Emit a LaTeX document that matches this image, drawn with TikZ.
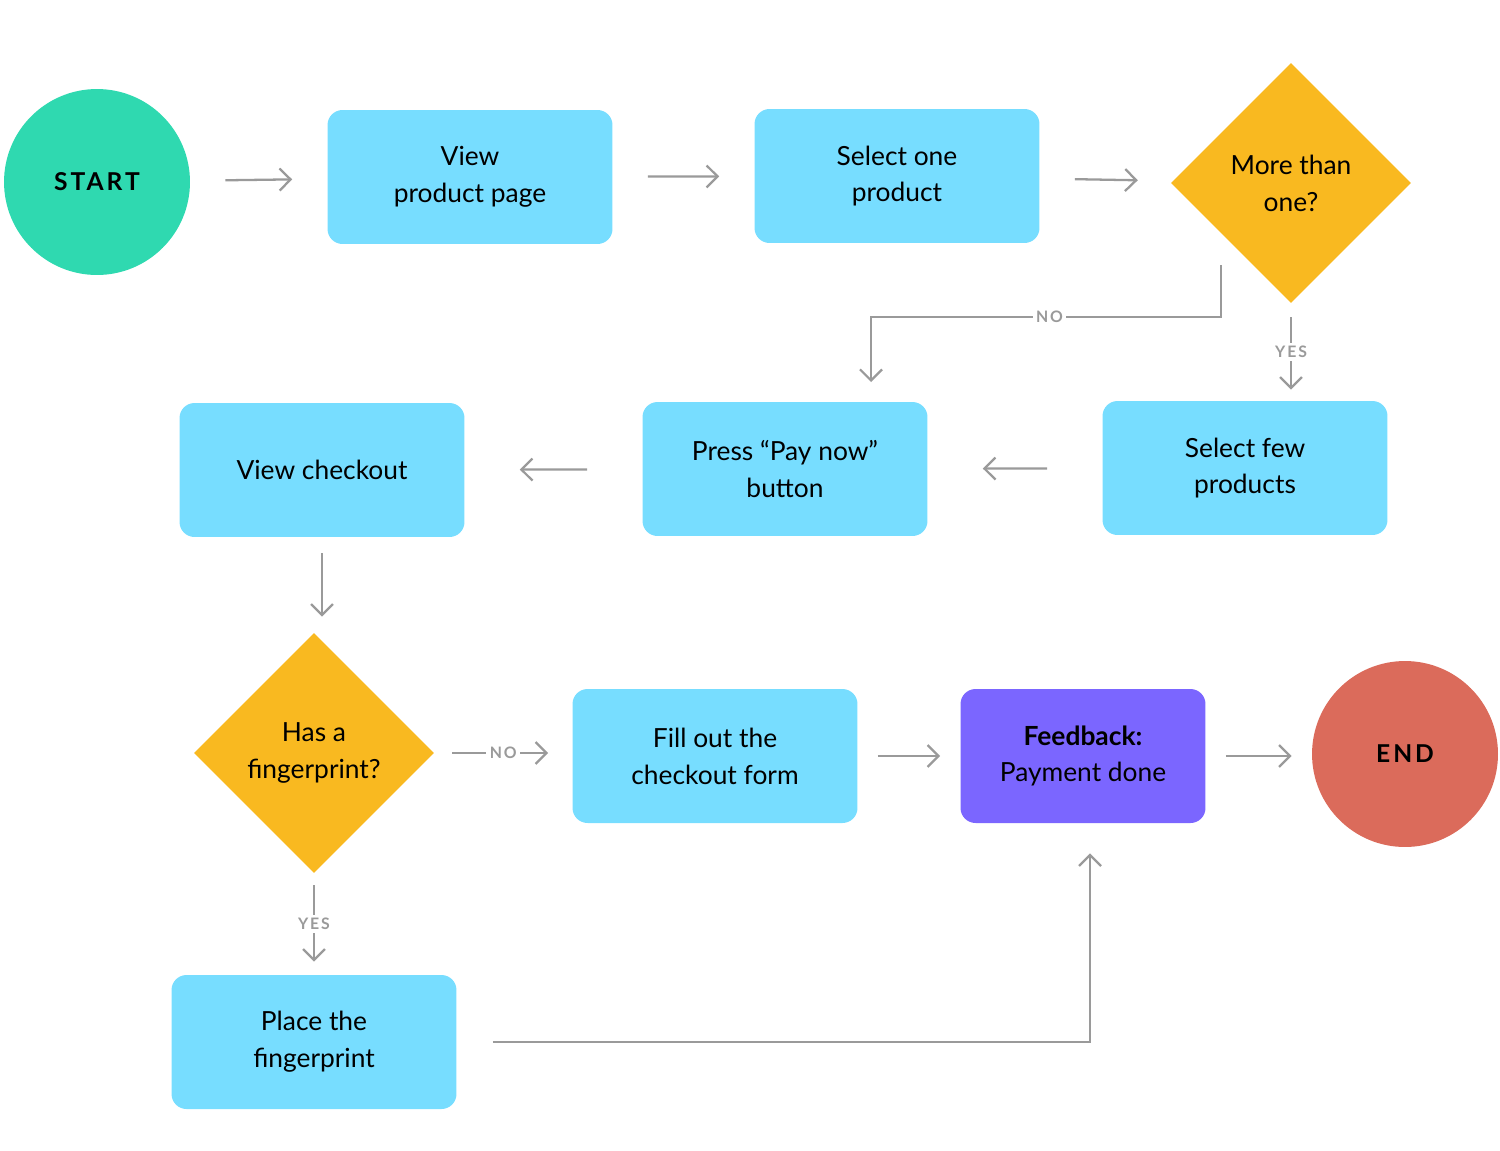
\documentclass[tikz,border=0pt]{standalone}
\usepackage{fontspec}
\setmainfont{Lato}
\newfontfamily\spaced[LetterSpace=12]{Lato}
\usetikzlibrary{shapes.geometric,arrows.meta}
\definecolor{boxblue}{HTML}{77DDFF}
\definecolor{startgreen}{HTML}{2FD9B0}
\definecolor{endred}{HTML}{DB6B5B}
\definecolor{decide}{HTML}{F9B920}
\definecolor{fbpurple}{HTML}{7B66FF}
\definecolor{linegray}{HTML}{9A9A9A}
\tikzset{
	task/.style={rectangle, rounded corners=0.3cm, fill=boxblue, minimum width=5.7cm,
		minimum height=2.68cm, inner sep=0pt, align=center,
		font=\fontsize{15}{21}\selectfont},
	ask/.style={diamond, fill=decide, minimum width=4.8cm, minimum height=4.8cm,
		inner sep=0pt, align=center, font=\fontsize{15}{21}\selectfont},
	term/.style={circle, minimum size=3.72cm, inner sep=0pt,
		font=\spaced\bfseries\fontsize{14}{17}\selectfont},
	flow/.style={-{Straight Barb[length=2.2mm,width=4.4mm]}, linegray, line width=1.3pt},
	tag/.style={fill=white, text=linegray, inner sep=2pt,
		font=\spaced\bfseries\fontsize{9}{11}\selectfont}
}
\begin{document}
\begin{tikzpicture}[x=0.02cm,y=-0.02cm]
	\useasboundingbox (0,0) rectangle (1500,1150);

	\node[term, fill=startgreen] (start) at (97,182) {START};
	\node[task] (view) at (470,177) {View\\product page};
	\node[task] (one) at (897,176) {Select one\\product};
	\node[ask] (more) at (1291,183) {More than\\one?};

	\node[task] (few) at (1245,468) {Select few\\products};
	\node[task] (press) at (785,469) {Press “Pay now”\\button};
	\node[task] (checkout) at (322,470) {View checkout};

	\node[ask] (finger) at (314,753) {Has a\\fingerprint?};
	\node[task] (fill) at (715,756) {Fill out the\\checkout form};
	\node[task, fill=fbpurple, minimum width=4.9cm] (fb) at (1083,756) {\textbf{Feedback:}\\Payment done};
	\node[term, fill=endred] (end) at (1405,754) {END};
	\node[task] (place) at (314,1042) {Place the\\fingerprint};

	\coordinate (noA) at (1221,265);
	\coordinate (noB) at (871,382);

	% first row
	\foreach \a / \b in {start/view, view/one, one/more}
	{
		\draw[flow, shorten <=0.7cm, shorten >=0.7cm] (\a) -- (\b);
	};
	% second row, leftwards
	\foreach \a / \b in {few/press, press/checkout}
	{
		\draw[flow, shorten <=1.1cm, shorten >=1.1cm] (\a) -- (\b);
	};
	% third row
	\foreach \a / \b in {fill/fb, fb/end}
	{
		\draw[flow, shorten <=0.4cm, shorten >=0.4cm] (\a.east) -- (\b.west |- \a.east);
	};

	\draw[flow] (noA) -- ++(0,52) -| node[tag, pos=0.245] {NO} (noB);
	\draw[flow, shorten <=0.28cm, shorten >=0.22cm] (more.south) -- node[tag] {YES} (more.south |- few.north);
	\draw[flow, shorten <=0.32cm, shorten >=0.32cm] (checkout.south) -- (checkout.south |- finger.north);
	\draw[flow, shorten <=0.36cm, shorten >=0.48cm] (finger.east) -- node[tag] {NO} (fill.west |- finger.east);
	\draw[flow, shorten <=0.24cm, shorten >=0.26cm] (finger.south) -- node[tag] {YES} (place.north);
	\draw[flow, shorten <=0.72cm, shorten >=0.6cm] (place.east) -| ([xshift=4]fb.south);

\end{tikzpicture}
\end{document}
